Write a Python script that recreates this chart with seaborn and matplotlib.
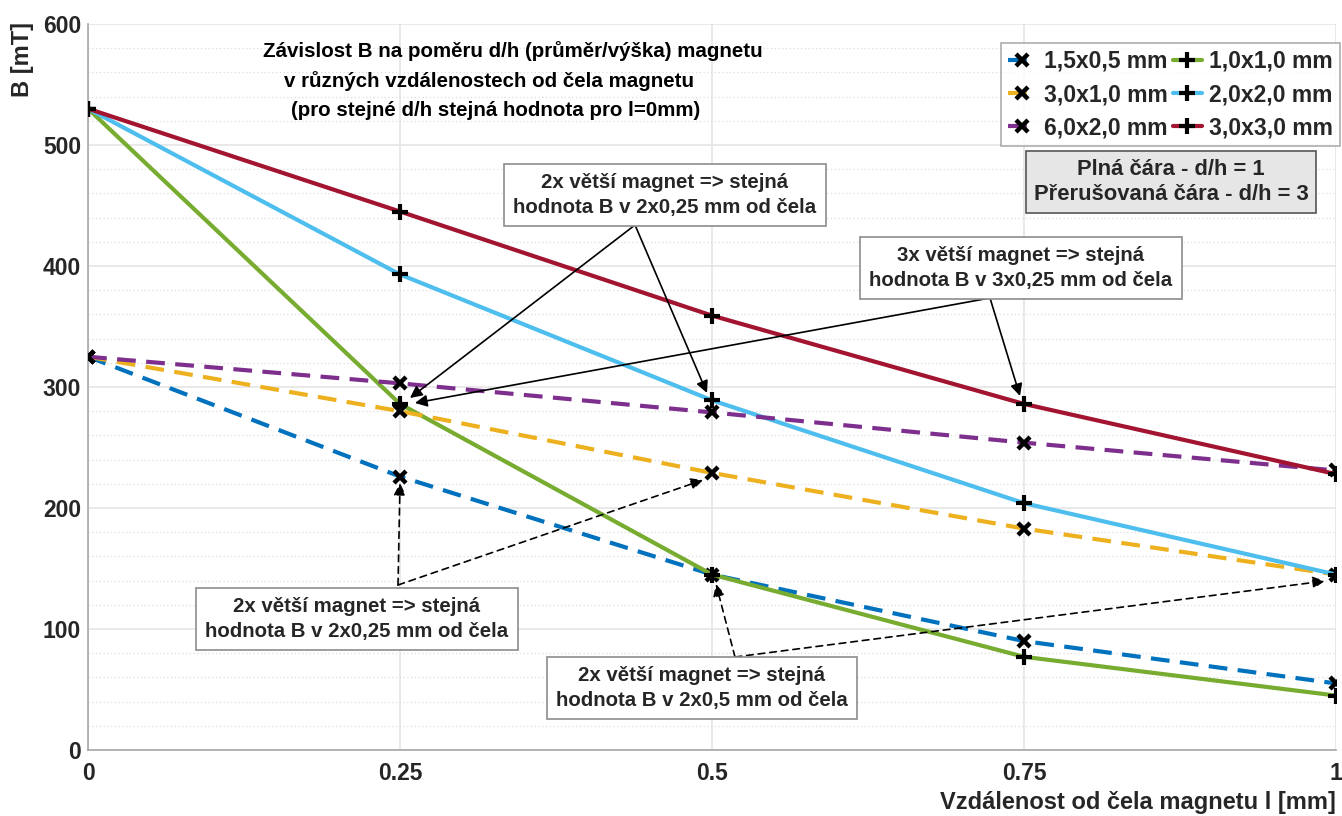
import numpy as np
import pandas as pd
import seaborn as sns
import matplotlib.pyplot as plt
from matplotlib.ticker import MultipleLocator, FixedLocator

# distance from magnet face [mm]
distance = [0, 0.25, 0.5, 0.75, 1.0]

# series in MATLAB plotting order (legend fills row-wise)
labels = ["1,5x0,5 mm", "1,0x1,0 mm", "3,0x1,0 mm", "2,0x2,0 mm", "6,0x2,0 mm", "3,0x3,0 mm"]
b_15x05 = [325, 226, 145, 90, 55]
b_10x10 = [530, 286, 145, 77, 45]
b_30x10 = [325, 280, 229, 183, 145]
b_20x20 = [530, 393, 289, 204, 145]
b_60x20 = [325, 303, 279, 254, 231]
b_30x30 = [530, 445, 359, 286, 228]
values = [b_15x05, b_10x10, b_30x10, b_20x20, b_60x20, b_30x30]

colors = ["#0072BD", "#77AC30", "#EDB120", "#4DBEEE", "#7E2F8E", "#A2142F"]
dashed = [True, False, True, False, True, False]

xticks = [0, 0.25, 0.5, 0.75, 1]
xticklabels = ["0", "0.25", "0.5", "0.75", "1"]

sns.set_style("white")
plt.rcParams["font.family"] = ["Liberation Sans", "DejaVu Sans"]
plt.rcParams["font.weight"] = "bold"

fig = plt.figure(figsize=(13.42, 8.16), dpi=100)
ax = fig.add_axes([0.0656, 0.0809, 0.9299, 0.8897])

df = pd.DataFrame({"l": np.tile(distance, len(labels)),
                   "B": np.concatenate(values),
                   "serie": np.repeat(labels, len(distance))})

handles = []
for lab, col, dsh in zip(labels, colors, dashed):
    sub = df[df["serie"] == lab]
    sns.lineplot(data=sub, x="l", y="B", ax=ax, color=col, lw=3,
                 linestyle=(0, (4.5, 2.5)) if dsh else "-", zorder=3)
    line = ax.lines[-1]
    line.set_marker("x" if dsh else "+")
    line.set_markersize(8 if dsh else 11)
    line.set_markeredgewidth(3.2 if dsh else 3)
    line.set_markeredgecolor("black")
    line.set_markerfacecolor("black")
    line.set_label(lab)
    handles.append(line)

ax.set_xlim(0, 1)
ax.set_ylim(0, 600)
ax.xaxis.set_major_locator(FixedLocator(xticks))
ax.set_xticklabels(xticklabels)
ax.yaxis.set_major_locator(MultipleLocator(100))
ax.yaxis.set_minor_locator(MultipleLocator(20))
ax.grid(which="major", color="#e3e3e3", lw=1.1, zorder=0)
ax.grid(which="minor", axis="y", color="#dddddd", lw=0.9, linestyle=(0, (1, 2)), zorder=0)
ax.tick_params(axis="both", which="major", direction="in", length=6, width=1,
               color="#555555", labelsize=16.5, labelcolor="#262626")
ax.tick_params(axis="y", which="major", pad=5)
ax.tick_params(axis="x", which="major", pad=9)
ax.tick_params(axis="y", which="minor", length=0)
for s in ["top", "right"]:
    ax.spines[s].set_visible(False)
for s in ["left", "bottom"]:
    ax.spines[s].set_color("#a8a8a8")
    ax.spines[s].set_linewidth(1.2)

ax.set_xlabel("Vzdálenost od čela magnetu l [mm]", fontsize=17, fontweight="bold",
              color="#262626", loc="right", labelpad=4)
ax.set_ylabel("B [mT]", fontsize=17, fontweight="bold", color="#262626")
ax.yaxis.set_label_coords((34 - 88) / 1248, (750 - 60) / 726)

# title inside the plot
tkw = dict(fontsize=14.8, fontweight="bold", color="black", transform=ax.transAxes, va="center")
ax.text((263 - 88) / 1248, (750 - 51) / 726, "Závislost B na poměru d/h (průměr/výška) magnetu", **tkw)
ax.text((284 - 88) / 1248, (750 - 81) / 726, "v různých vzdálenostech od čela magnetu", **tkw)
ax.text((291 - 88) / 1248, (750 - 111) / 726, "(pro stejné d/h stejná hodnota pro l=0mm)", **tkw)

# legend (MATLAB row-wise order -> matplotlib column-wise)
order = [0, 2, 4, 1, 3, 5]
leg = ax.legend([handles[i] for i in order], [labels[i] for i in order], ncol=2,
                loc="upper right", bbox_to_anchor=((1340 - 88) / 1248, (750 - 43) / 726),
                fontsize=16.5, frameon=True, fancybox=False, edgecolor="#999999",
                handlelength=1.3, handletextpad=0.3, columnspacing=0.2, borderpad=0.3,
                labelspacing=0.45, borderaxespad=0)
leg.get_frame().set_linewidth(1.2)
leg.set_zorder(10)

box_white = dict(boxstyle="square,pad=0.45", fc="white", ec="#8c8c8c", lw=1.2)
box_gray = dict(boxstyle="square,pad=0.35", fc="#e6e6e6", ec="#555555", lw=1.2)
akw = dict(fontsize=14.7, fontweight="bold", ha="center", va="center", linespacing=1.4, zorder=8)


def px(x, y):
    return ((x - 88) / 1248, (750 - y) / 1.21)


gkw = dict(akw, fontsize=15.8, linespacing=1.3)
ax.text(*px(1171, 182), "Plná čára - d/h = 1\nPřerušovaná čára - d/h = 3",
        bbox=box_gray, **gkw)

solid_arrow = dict(arrowstyle="-|>", color="black", lw=1.2, mutation_scale=18,
                   shrinkA=0, shrinkB=0)
dashed_arrow = dict(arrowstyle="-|>", color="black", lw=1.2, mutation_scale=18,
                    shrinkA=0, shrinkB=0, linestyle=(0, (4, 3)))

# solid-arrow callouts
for start, ends, txt, ctr in [
    ((635, 225), [(410, 398), (707, 393)],
     "2x větší magnet => stejná\nhodnota B v 2x0,25 mm od čela", (665, 195)),
    ((990, 298), [(415, 403), (1020, 396)],
     "3x větší magnet => stejná\nhodnota B v 3x0,25 mm od čela", (1021, 268)),
]:
    for e in ends:
        ax.annotate("", xy=px(*e), xytext=px(*start), arrowprops=solid_arrow, zorder=6)
    ax.text(*px(*ctr), txt, bbox=box_white, **akw)

# dashed-arrow callouts
for start, ends, txt, ctr in [
    ((398, 585), [(400, 483), (703, 480)],
     "2x větší magnet => stejná\nhodnota B v 2x0,25 mm od čela", (357, 619)),
    ((735, 657), [(716, 584), (1325, 581)],
     "2x větší magnet => stejná\nhodnota B v 2x0,5 mm od čela", (702, 688)),
]:
    for e in ends:
        ax.annotate("", xy=px(*e), xytext=px(*start), arrowprops=dashed_arrow, zorder=6)
    ax.text(*px(*ctr), txt, bbox=box_white, **akw)

fig.savefig("out.png", dpi=100)
